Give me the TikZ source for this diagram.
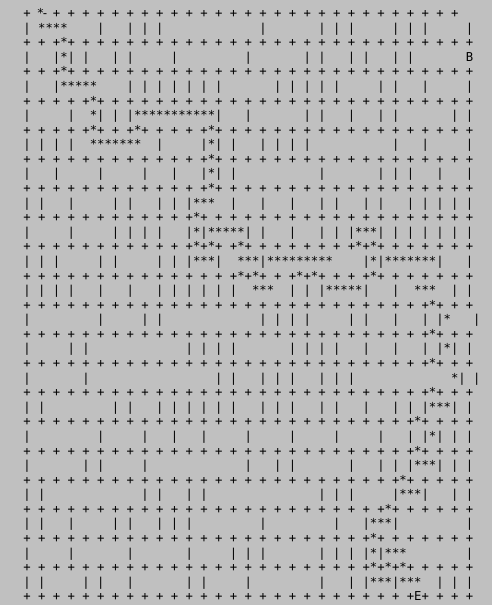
\documentclass[tikz,border=0pt]{standalone}
\usepackage{fontspec}
\setmonofont{DejaVu Sans Mono}
\definecolor{bg}{RGB}{192,192,192}
\newlength\mzw \setlength\mzw{7.372pt}
\ExplSyntaxOn
\NewDocumentCommand\mzrow{m}
 {
  \tl_map_inline:nn {#1}
   {
    \str_if_eq:nnTF {##1} {.}
     { \hbox_to_wd:nn {\mzw} {} }
     { \hbox_to_wd:nn {\mzw} { \hss ##1 \hss } }
   }
 }
\ExplSyntaxOff
\newcommand\mzfont{\ttfamily\fontsize{12.25pt}{14.6pt}\selectfont}
\begin{document}
\begin{tikzpicture}[x=1pt,y=1pt,
  mz/.style={anchor=base west,inner sep=0pt,outer sep=0pt,font=\mzfont,text=black}]
\fill[bg] (0,0) rectangle (492,-605);
\useasboundingbox (0,0) rectangle (492,-605);
\newcommand\mzl[2]{\node[mz] (l#1) at (23.5,{-(17.5+(#1-1)*14.585)}) {\mzrow{#2}};}
\mzl{1}{+...+.+.+.+.+.+.+.+.+.+.+.+.+.+.+.+.+.+.+.+.+.+.+.+.+.+.+.+}
\mzl{2}{|.****....|...|.|.|.............|.......|.|.|.....|.|.|.....|}
\mzl{3}{+.+.+*+.+.+.+.+.+.+.+.+.+.+.+.+.+.+.+.+.+.+.+.+.+.+.+.+.+.+.+}
\mzl{4}{|...|*|.|...|.|.....|.........|.......|.|...|.|...|.|.......B}
\mzl{5}{+.+.+*+.+.+.+.+.+.+.+.+.+.+.+.+.+.+.+.+.+.+.+.+.+.+.+.+.+.+.+}
\mzl{6}{|...|*****....|.|.|.|.|.|.|.......|.|.|.|.|.....|.|...|.....|}
\mzl{7}{+.+.+.+.+*+.+.+.+.+.+.+.+.+.+.+.+.+.+.+.+.+.+.+.+.+.+.+.+.+.+}
\mzl{8}{|.....|..*|.|.|***********|...|.......|.|...|...|.|.......|.|}
\mzl{9}{+.+.+.+.+*+.+.+*+.+.+.+.+*+.+.+.+.+.+.+.+.+.+.+.+.+.+.+.+.+.+}
\mzl{10}{|.|.|.|..*******..|.....|*|.|...|.|.|.|...........|...|.....|}
\mzl{11}{+.+.+.+.+.+.+.+.+.+.+.+.+*+.+.+.+.+.+.+.+.+.+.+.+.+.+.+.+.+.+}
\mzl{12}{|...|.....|.....|...|...|*|.|...........|.......|.|.|...|...|}
\mzl{13}{+.+.+.+.+.+.+.+.+.+.+.+.+*+.+.+.+.+.+.+.+.+.+.+.+.+.+.+.+.+.+}
\mzl{14}{|.|...|.....|.|...|.|.|***..|...|...|...|.|...|.|...|.|.|.|.|}
\mzl{15}{+.+.+.+.+.+.+.+.+.+.+.+*+.+.+.+.+.+.+.+.+.+.+.+.+.+.+.+.+.+.+}
\mzl{16}{|.....|.....|.|.|.|...|*|*****|.|...|...|.|.|***|.|.|.|.|.|.|}
\mzl{17}{+.+.+.+.+.+.+.+.+.+.+.+*+*+.+*+.+.+.+.+.+.+.+*+*+.+.+.+.+.+.+}
\mzl{18}{|.|.|.....|.|.....|.|.|***|..***|*********....|*|*******|...|}
\mzl{19}{+.+.+.+.+.+.+.+.+.+.+.+.+.+.+*+*+.+.+*+*+.+.+.+*+.+.+.+.+.+.+}
\mzl{20}{|.|.|.|...|...|...|.|.|.|.|.|..***..|.|.|*****|...|..***..|.|}
\mzl{21}{+.+.+.+.+.+.+.+.+.+.+.+.+.+.+.+.+.+.+.+.+.+.+.+.+.+.+.+*+.+.+}
\mzl{22}{|.........|.....|.|.............|.|.|.|.....|.|...|...|.|*...|}
\mzl{23}{+.+.+.+.+.+.+.+.+.+.+.+.+.+.+.+.+.+.+.+.+.+.+.+.+.+.+.+*+.+.+}
\mzl{24}{|.....|.|.............|.|.|.|.......|.|.|.|...|...|...|.|*|.|}
\mzl{25}{+.+.+.+.+.+.+.+.+.+.+.+.+.+.+.+.+.+.+.+.+.+.+.+.+.+.+.+*+.+.+}
\mzl{26}{|.......|.................|.|...|.|.|...|.|.|.............*|.|}
\mzl{27}{+.+.+.+.+.+.+.+.+.+.+.+.+.+.+.+.+.+.+.+.+.+.+.+.+.+.+.+*+.+.+}
\mzl{28}{|.|.........|.|...|.|.|.|.|.|...|.|.|...|.|...|...|.|.|***|.|}
\mzl{29}{+.+.+.+.+.+.+.+.+.+.+.+.+.+.+.+.+.+.+.+.+.+.+.+.+.+.+*+.+.+.+}
\mzl{30}{|.........|.....|...|...|.....|.....|.....|.....|...|.|*|.|.|}
\mzl{31}{+.+.+.+.+.+.+.+.+.+.+.+.+.+.+.+.+.+.+.+.+.+.+.+.+.+.+*+.+.+.+}
\mzl{32}{|.......|.|.....|.............|...|.|.......|...|.|.|***|.|.|}
\mzl{33}{+.+.+.+.+.+.+.+.+.+.+.+.+.+.+.+.+.+.+.+.+.+.+.+.+.+*+.+.+.+.+}
\mzl{34}{|.|.............|.|...|.|...............|.|.|.....|***|...|.|}
\mzl{35}{+.+.+.+.+.+.+.+.+.+.+.+.+.+.+.+.+.+.+.+.+.+.+.+.+*+.+.+.+.+.+}
\mzl{36}{|.|...|.....|.|...|.|.|.........|.........|...|***|.........|}
\mzl{37}{+.+.+.+.+.+.+.+.+.+.+.+.+.+.+.+.+.+.+.+.+.+.+.+*+.+.+.+.+.+.+}
\mzl{38}{|.....|.......|.......|.....|.|.|.......|.|.|.|*|***........|}
\mzl{39}{+.+.+.+.+.+.+.+.+.+.+.+.+.+.+.+.+.+.+.+.+.+.+.+*+*+*+.+.+.+.+}
\mzl{40}{|.|.....|.|...|.......|.|.....|.........|...|.|***|***..|.|.|}
\mzl{41}{+.+.+.+.+.+.+.+.+.+.+.+.+.+.+.+.+.+.+.+.+.+.+.+.+.+.+E+.+.+.+}
\node[mz,anchor=base] (entry) at (40.5,-17.5) {*};
\node[mz,anchor=base] (entrydash) at (45,-17.5) {-};
\end{tikzpicture}
\end{document}
